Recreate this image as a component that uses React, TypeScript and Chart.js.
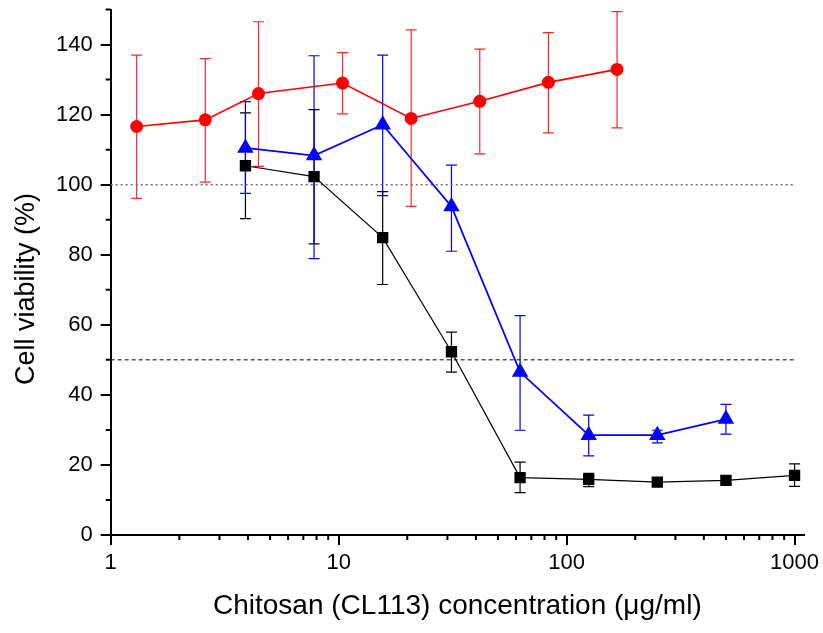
import React, { useEffect, useRef } from "react";
import { Chart, registerables } from "chart.js";

Chart.register(...registerables);

// Concentrations (µg/ml)
const redX = [1.3, 2.6, 4.45, 10.4, 20.8, 41.6, 83.2, 166.4];
const blueX = [3.9, 7.8, 15.6, 31.25, 62.5, 125, 250, 500];
const blackX = [3.9, 7.8, 15.6, 31.25, 62.5, 125, 250, 500, 1000];

// Cell viability (%)
const redY = [116.6, 118.5, 126.0, 129.0, 118.9, 123.8, 129.2, 132.9];
const redTop = [137.0, 136.0, 146.5, 137.7, 144.2, 138.7, 143.4, 149.4];
const redBot = [96.1, 100.7, 105.2, 120.2, 93.8, 108.8, 114.8, 116.2];

const blueY = [110.5, 108.3, 117.1, 93.8, 46.5, 28.5, 28.5, 33.1];
const blueTop = [123.7, 136.8, 137.0, 105.6, 62.6, 34.2, 29.9, 37.3];
const blueBot = [97.5, 78.9, 96.9, 81.0, 29.9, 22.6, 26.3, 28.8];

const blackY = [105.4, 102.3, 84.9, 52.3, 16.4, 15.9, 15.1, 15.6, 17.0];
const blackTop = [120.5, 121.4, 98.0, 57.9, 20.8, 17.6, 16.2, 16.6, 20.3];
const blackBot = [90.3, 83.1, 71.5, 46.5, 12.1, 13.8, 14.0, 14.6, 13.9];

// Reference lines
const refX = [1, 1000];
const ref100 = [100, 100];
const ref50 = [50, 50];

// Ticks
const xTickValues = [1, 10, 100, 1000];
const xMinorTicks = [2, 3, 4, 5, 6, 7, 8, 9, 20, 30, 40, 50, 60, 70, 80, 90, 200, 300, 400, 500, 600, 700, 800, 900];
const yTickValues = [0, 20, 40, 60, 80, 100, 120, 140];
const yMinorTicks = [10, 30, 50, 70, 90, 110, 130, 150];

const xTitle = "Chitosan (CL113) concentration (μg/ml)";
const yTitle = "Cell viability (%)";

const FONT = "Arial, 'Liberation Sans', sans-serif";

const pts = (xs: number[], ys: number[]) => xs.map((x, i) => ({ x, y: ys[i] }));

const errorBarPlugin = {
  id: "errorBars",
  beforeDatasetsDraw(chart: any) {
    const { ctx } = chart;
    const xs = chart.scales.x;
    const ys = chart.scales.y;
    chart.data.datasets.forEach((ds: any) => {
      if (!ds.errTop) return;
      ctx.save();
      ctx.strokeStyle = ds.errColor;
      ctx.lineWidth = ds.errWidth;
      ds.data.forEach((p: any, i: number) => {
        const px = xs.getPixelForValue(p.x);
        const pt = ys.getPixelForValue(ds.errTop[i]);
        const pb = ys.getPixelForValue(ds.errBot[i]);
        const h = 5.5;
        ctx.beginPath();
        ctx.moveTo(px, pt);
        ctx.lineTo(px, pb);
        ctx.moveTo(px - h, pt);
        ctx.lineTo(px + h, pt);
        ctx.moveTo(px - h, pb);
        ctx.lineTo(px + h, pb);
        ctx.stroke();
      });
      ctx.restore();
    });
  },
};

const minorTickPlugin = {
  id: "minorTicks",
  afterDraw(chart: any) {
    const { ctx, chartArea } = chart;
    const xs = chart.scales.x;
    const ys = chart.scales.y;
    ctx.save();
    ctx.strokeStyle = "#000";
    ctx.lineWidth = 2;
    ctx.beginPath();
    xMinorTicks.forEach((v) => {
      const px = xs.getPixelForValue(v);
      ctx.moveTo(px, chartArea.bottom);
      ctx.lineTo(px, chartArea.bottom + 5);
    });
    yMinorTicks.forEach((v) => {
      const py = ys.getPixelForValue(v);
      ctx.moveTo(chartArea.left, py);
      ctx.lineTo(chartArea.left - 5, py);
    });
    ctx.stroke();
    // y axis title
    ctx.translate(27, 289);
    ctx.rotate(-Math.PI / 2);
    ctx.fillStyle = "#000";
    ctx.font = `27px ${FONT}`;
    ctx.textAlign = "center";
    ctx.textBaseline = "middle";
    ctx.fillText(yTitle, 0, 0);
    ctx.restore();
  },
};

export default function App() {
  const ref = useRef<HTMLCanvasElement | null>(null);

  useEffect(() => {
    document.body.style.margin = "0";
    const canvas = ref.current;
    if (!canvas) return;
    const chart = new Chart(canvas, {
      type: "line",
      data: {
        datasets: [
          {
            label: "black",
            data: pts(blackX, blackY),
            borderColor: "#000000",
            backgroundColor: "#000000",
            borderWidth: 1.2,
            pointStyle: "rect",
            pointRadius: 8,
            pointBorderWidth: 0,
            tension: 0,
            errTop: blackTop,
            errBot: blackBot,
            errColor: "#000000",
            errWidth: 1.2,
          } as any,
          {
            label: "blue",
            data: pts(blueX, blueY),
            borderColor: "#0000ff",
            backgroundColor: "#0000ff",
            borderWidth: 1.8,
            pointStyle: "triangle",
            pointRadius: 9.5,
            pointBorderWidth: 0,
            tension: 0,
            errTop: blueTop,
            errBot: blueBot,
            errColor: "#0000ff",
            errWidth: 1.2,
          } as any,
          {
            label: "red",
            data: pts(redX, redY),
            borderColor: "#ff0000",
            backgroundColor: "#ff0000",
            borderWidth: 1.6,
            pointStyle: "circle",
            pointRadius: 6.5,
            pointBorderWidth: 0,
            tension: 0,
            errTop: redTop,
            errBot: redBot,
            errColor: "rgba(255,0,0,0.85)",
            errWidth: 1.2,
          } as any,
          {
            label: "ref100",
            data: pts(refX, ref100),
            borderColor: "#707070",
            borderWidth: 1.5,
            borderDash: [2, 3],
            pointRadius: 0,
          },
          {
            label: "ref50",
            data: pts(refX, ref50),
            borderColor: "#000000",
            borderWidth: 1,
            borderDash: [4, 3],
            pointRadius: 0,
          },
        ],
      },
      options: {
        responsive: false,
        animation: false,
        events: [],
        layout: { padding: { top: 9, right: 19, left: 0, bottom: 0 } },
        plugins: {
          legend: { display: false },
          tooltip: { enabled: false },
        },
        scales: {
          x: {
            type: "logarithmic",
            position: "bottom",
            min: 1,
            max: 1100,
            afterBuildTicks: (s: any) => {
              s.ticks = xTickValues.map((v) => ({ value: v }));
            },
            afterFit: (s: any) => {
              s.height = 98;
              s.paddingLeft = 0;
              s.paddingRight = 0;
            },
            ticks: {
              callback: (v: any) => String(v),
              font: { family: FONT, size: 22 },
              color: "#000",
              padding: 5,
              maxRotation: 0,
              autoSkip: false,
            },
            grid: {
              display: true,
              drawOnChartArea: false,
              drawTicks: true,
              tickLength: 10,
              color: "#000",
              lineWidth: 2,
            },
            border: { display: true, color: "#000", width: 2 },
            title: {
              display: true,
              text: xTitle,
              font: { family: FONT, size: 28 },
              color: "#000",
              padding: { top: 0, bottom: 10 },
            },
          },
          y: {
            type: "linear",
            min: 0,
            max: 150,
            afterBuildTicks: (s: any) => {
              s.ticks = yTickValues.map((v) => ({ value: v }));
            },
            afterFit: (s: any) => {
              s.width = 110.7;
              s.paddingTop = 0;
              s.paddingBottom = 0;
            },
            ticks: {
              font: { family: FONT, size: 22 },
              color: "#000",
              padding: 8,
            },
            grid: {
              display: true,
              drawOnChartArea: false,
              drawTicks: true,
              tickLength: 10,
              color: "#000",
              lineWidth: 2,
            },
            border: { display: true, color: "#000", width: 2 },
            title: { display: false },
          },
        },
      },
      plugins: [errorBarPlugin, minorTickPlugin],
    } as any);
    return () => chart.destroy();
  }, []);

  return (
    <div style={{ position: "fixed", left: 0, top: 0, width: 823, height: 633, background: "#fff" }}>
      <canvas ref={ref} width={823} height={633} style={{ width: 823, height: 633, display: "block" }} />
    </div>
  );
}
